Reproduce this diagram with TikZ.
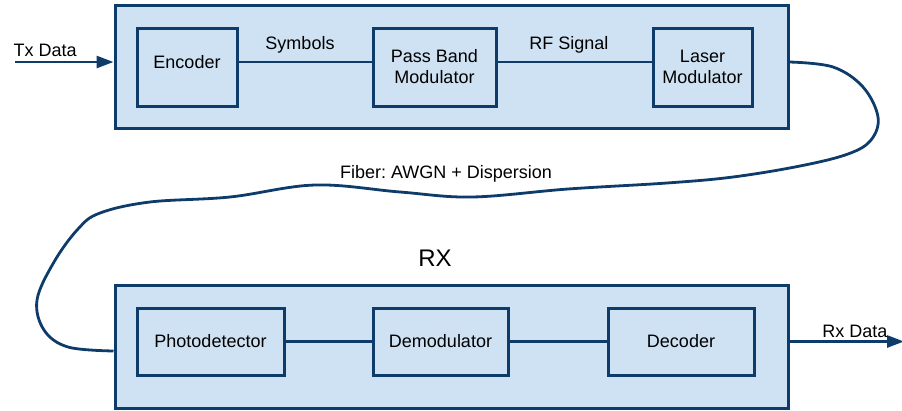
\documentclass[tikz,border=0pt]{standalone}
\usepackage{fontspec}
\setmainfont{Liberation Sans}
\usetikzlibrary{arrows.meta}
\definecolor{navy}{HTML}{0E3C6A}
\definecolor{paleblue}{HTML}{CFE2F3}
\frenchspacing
\begin{document}
\begin{tikzpicture}[x=1pt,y=-1pt,
  every node/.style={font=\fontsize{18}{21}\selectfont, text=black},
  stage/.style={draw=navy, fill=paleblue, line width=3pt, minimum width=673pt, minimum height=123pt, inner sep=0pt},
  block/.style={draw=navy, fill=paleblue, line width=3pt, inner sep=0pt, align=center, minimum height=#1},
  block/.default=78pt,
  wire/.style={draw=navy, line width=2.8pt},
  feed/.style={wire, -{Triangle[length=17pt,width=12pt]}},
  fiber/.style={draw=navy, line width=2.8pt, line join=round}]
\useasboundingbox (0,0) rectangle (902,410);

% transmitter chain
\node[stage] (tx) at (451.5,66.5) {};
\node[block, minimum width=100pt, text height=13pt, text depth=10pt] (enc) at (187,67) {Encoder};
\node[block, minimum width=123pt] (pbm) at (434.5,67) {Pass Band\\Modulator};
\node[block, minimum width=99pt] (las) at (702.5,67) {Laser\\Modulator};
\coordinate (tl) at (0,62);
\coordinate (txin) at (15,62);
\draw[feed] (txin) -- (tx.west |- tl);
\draw[wire] (enc.east |- tl) -- (pbm.west |- tl);
\draw[wire] (pbm.east |- tl) -- (las.west |- tl);
\node[anchor=west] (txlab) at (10,50) {Tx Data};
\node (symlab) at (300,45) {Symbols};
\node (rflab) at (569,45) {RF Signal};

% receiver chain
\node (rxlab) at (435,258) {\fontsize{24}{28}\selectfont RX};
\node[stage] (rx) at (451.5,346.5) {};
\node[block=67pt, minimum width=147pt] (pd) at (210.5,341.5) {Photodetector};
\node[block=67pt, minimum width=135pt] (dem) at (440.5,341.5) {Demodulator};
\node[block=67pt, minimum width=146pt] (dec) at (681,341.5) {Decoder};
\draw[wire] (pd) -- (dem);
\draw[wire] (dem) -- (dec);
\coordinate (rxout) at (904,341.5);
\draw[feed] (rx.east |- rxout) -- (rxout);
\node (rxdlab) at (855,331) {Rx Data};

% optical fiber between the stages
\coordinate (fa) at (tx.east |- tl);
\coordinate (fb) at (rx.west |- 0,351);
\draw[fiber] plot[smooth, tension=0.6] coordinates {
  (fa) (833,67) (863,87) (878,117) (871,140) (848,154) (800,166)
  (733,177) (667,183) (568,189) (472,197) (400,192) (315,185)
  (230,197) (150,202) (100,213) (78,229) (54,262) (37,300)
  (44,330) (68,347) (fb)};
\node (fiblab) at (446,174) {Fiber: AWGN + Dispersion};
\end{tikzpicture}
\end{document}
